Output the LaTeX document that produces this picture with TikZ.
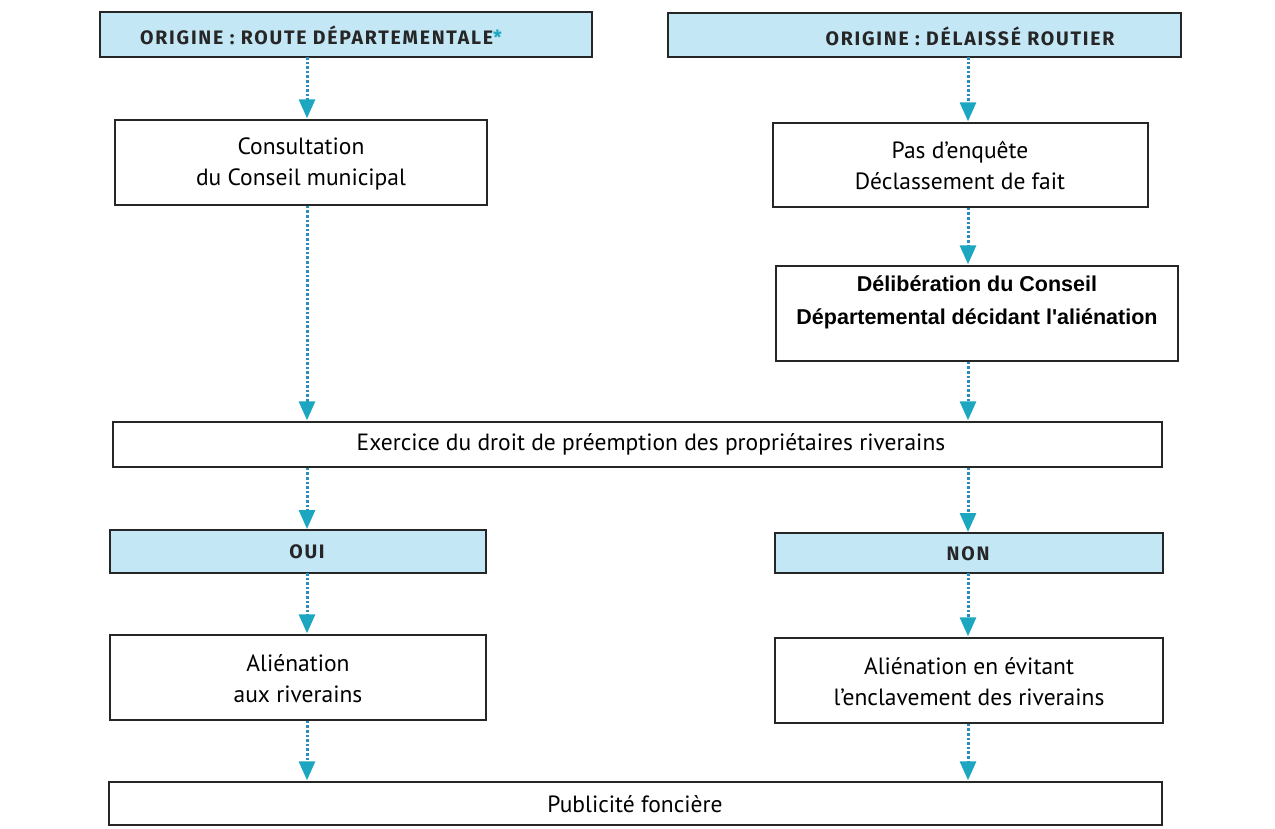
\documentclass[tikz,border=0pt]{standalone}
\usepackage{fontspec}
\setmainfont{PT Sans}
\newfontfamily\headfont[LetterSpace=9]{Fira Sans}
\newfontfamily\arialfont{Liberation Sans}
\usetikzlibrary{arrows.meta}
\definecolor{headfill}{HTML}{C4E7F6}
\definecolor{arrline}{HTML}{2A8DC2}
\definecolor{arrhead}{HTML}{1CA6C0}
\begin{document}
\begin{tikzpicture}[x=1pt,y=-1pt,
  box/.style={draw=black!85, line width=1.4pt, inner sep=0pt},
  head/.style={box, fill=headfill},
  body/.style={font=\fontsize{23.5}{31}\selectfont, align=center},
  htext/.style={font=\headfont\bfseries\fontsize{19.5}{22}\selectfont, text=black!85},
  arr/.style={draw=arrline, line width=3pt, dash pattern=on 2.6pt off 2pt,
    -{Triangle[width=16pt,length=19pt,fill=arrhead,color=arrhead]}, shorten >=1pt}
]
\useasboundingbox (0,0) rectangle (1275,828);
\coordinate (colL) at (307,0);
\coordinate (colR) at (968,0);
% header boxes
\draw[head] (100,12) rectangle (592,57);
\node[htext] (A) at (321,35) {ORIGINE : ROUTE DÉPARTEMENTALE\textcolor{arrhead}{*}};
\coordinate (Ab) at (307,57);
\draw[head] (668,13) rectangle (1181,57);
\node[htext] (B) at (970,36) {ORIGINE : DÉLAISSÉ ROUTIER};
\coordinate (Bb) at (968,57);
% boxes
\node[box, minimum width=372pt, minimum height=85pt] (C) at (301,162.5) {};
\node[body] at (301,163.5) {Consultation\\du Conseil municipal};
\node[box, minimum width=375pt, minimum height=84pt] (D) at (960.5,165) {};
\node[body] at (960,165.5) {Pas d’enquête\\Déclassement de fait};
\node[box, minimum width=402pt, minimum height=95pt] (E) at (977,313.5) {};
\node[align=center, font=\arialfont\bfseries\fontsize{21.5}{33}\selectfont] at (977,302) {Délibération du Conseil\\Départemental décidant l'aliénation};
\node[box, minimum width=1049pt, minimum height=45pt] (F) at (637.5,444.5) {};
\node[body] at (651,444.5) {Exercice du droit de préemption des propriétaires riverains};
\draw[head] (110,530) rectangle (486,573);
\node[htext] (G) at (307,552) {OUI};
\coordinate (Gt) at (307,530);
\coordinate (Gb) at (307,573);
\draw[head] (775,533) rectangle (1163,573);
\node[htext] (H) at (968,554) {NON};
\coordinate (Ht) at (968,533);
\coordinate (Hb) at (968,573);
\node[box, minimum width=376pt, minimum height=85pt] (I) at (298,677.5) {};
\node[body] at (298,678.5) {Aliénation\\aux riverains};
\node[box, minimum width=388pt, minimum height=85pt] (J) at (969,680.5) {};
\node[body] at (969,681.5) {Aliénation en évitant\\l’enclavement des riverains};
\node[box, minimum width=1053pt, minimum height=43pt] (K) at (635.5,803.5) {};
\node[body] at (635,804) {Publicité foncière};
% connectors
\draw[arr] (Ab) -- (C.north -| colL);
\draw[arr] (Bb) -- (D.north -| colR);
\draw[arr] (C.south -| colL) -- (F.north -| colL);
\draw[arr] (D.south -| colR) -- (E.north -| colR);
\draw[arr] (E.south -| colR) -- (F.north -| colR);
\draw[arr] (F.south -| colL) -- (Gt);
\draw[arr] (F.south -| colR) -- (Ht);
\draw[arr] (Gb) -- (I.north -| colL);
\draw[arr] (Hb) -- (J.north -| colR);
\draw[arr] (I.south -| colL) -- (K.north -| colL);
\draw[arr] (J.south -| colR) -- (K.north -| colR);
\end{tikzpicture}
\end{document}
